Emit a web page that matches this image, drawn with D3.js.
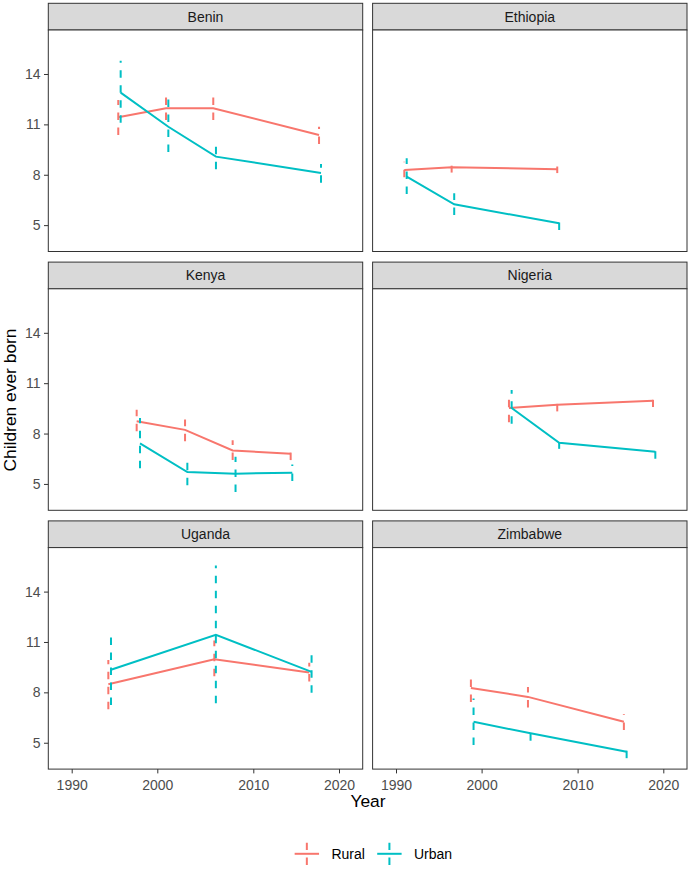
<!DOCTYPE html>
<html>
<head>
<meta charset="utf-8">
<script src="https://cdn.jsdelivr.net/npm/d3@7"></script>
<style>
  body { margin: 0; background: #fff; }
  svg { display: block; font-family: "Liberation Sans", Arial, sans-serif; }
</style>
</head>
<body>
<div id="chart"></div>
<script>
//////////////////////////// data /////////////////////////////////////////

const countries = ["Benin", "Ethiopia", "Kenya", "Nigeria", "Uganda", "Zimbabwe"];
const areas = ["Rural", "Urban"];
const xTicks = [1990, 2000, 2010, 2020];
const yTicks = [5, 8, 11, 14];
const yLimits = [3.43, 16.62];

// one inner array per country, in the order of `countries`
const ruralYear = [
	[1995.44, 2000.91, 2005.83, 2017.67],
	[1990.97, 1996.5, 2007.88],
	[1997.59, 2002.89, 2007.85, 2014.36],
	[2002.85, 2007.88, 2018.8],
	[1994.28, 2005.94, 2016.53],
	[1998.75, 2004.83, 2015.4]
];
const ruralMean = [
	[11.42, 11.96, 11.96, 10.37],
	[8.29, 8.45, 8.33],
	[8.73, 8.22, 6.99, 6.8],
	[9.52, 9.72, 9.96],
	[8.48, 9.97, 9.18],
	[8.26, 7.73, 6.25]
];
const ruralLow = [
	[10.37, 11.26, 11.26, 9.83],
	[7.85, 8.13, 8.1],
	[8.14, 7.54, 6.42, 6.42],
	[8.67, 9.32, 9.58],
	[7.0, 8.96, 8.64],
	[7.43, 7.1, 5.76]
];
const ruralHigh = [
	[12.45, 13.05, 12.61, 10.86],
	[8.78, 8.54, 8.49],
	[9.42, 8.83, 7.6, 6.92],
	[10.01, 9.78, 10.01],
	[9.92, 11.09, 9.76],
	[8.76, 8.32, 6.69]
];

const urbanYear = [
	[1995.72, 2001.15, 2006.11, 2017.9],
	[1991.25, 1996.8, 2008.08],
	[1997.98, 2003.13, 2008.15, 2014.55],
	[2003.13, 2008.08, 2019.07],
	[1994.59, 2006.1, 2016.8],
	[1999.06, 2005.1, 2015.72]
];
const urbanMean = [
	[12.89, 10.86, 9.08, 8.11],
	[7.89, 6.24, 5.11],
	[7.41, 5.71, 5.61, 5.67],
	[9.52, 7.45, 6.91],
	[9.35, 11.43, 9.22],
	[6.25, 5.56, 4.46]
];
const urbanLow = [
	[11.1, 9.36, 8.33, 7.53],
	[6.86, 5.61, 4.71],
	[5.93, 4.92, 4.52, 5.17],
	[8.59, 7.09, 6.5],
	[7.24, 7.35, 7.97],
	[4.87, 5.12, 4.08]
];
const urbanHigh = [
	[14.79, 12.49, 9.67, 8.64],
	[8.98, 6.9, 5.21],
	[8.93, 6.26, 6.62, 6.16],
	[10.6, 7.48, 6.95],
	[11.29, 15.56, 10.24],
	[7.64, 6.01, 4.53]
];

//////////////////////////// build rows ///////////////////////////////////

const toRows = (area, years, means, lows, highs) =>
	countries.flatMap((c, ci) =>
		years[ci].map((yr, i) => ({
			country: c,
			area: area,
			year: yr,
			mean: means[ci][i],
			low: lows[ci][i],
			high: highs[ci][i]
		}))
	);

const data = [
	...toRows("Rural", ruralYear, ruralMean, ruralLow, ruralHigh),
	...toRows("Urban", urbanYear, urbanMean, urbanLow, urbanHigh)
];

//////////////////////////// sizes ////////////////////////////////////////

const width = 690;
const height = 869;
const panelW = 314.4;
const panelH = 221.5;
const stripH = 26.7;
const colLeft = [48.3, 372.6];
const rowTop = 3.3;
const rowPitch = 258.8;

const colors = ["#F8766D", "#00BFC4"];
const cScale = d3.scaleOrdinal().domain(areas).range(colors);

//////////////////////////// scales ///////////////////////////////////////

// tick spacing in the picture is not even, so the x scale is polylinear
const xScale = d3.scaleLinear().domain(xTicks).range([23.4, 109, 205, 290.7]);
const yScale = d3.scaleLinear().domain(yLimits).range([panelH, 0]);

//////////////////////////// svg //////////////////////////////////////////

const svg = d3.select("#chart")
	.append("svg")
	.attr("width", width)
	.attr("height", height);

const line = d3.line()
	.x((d) => xScale(d.year))
	.y((d) => yScale(d.mean));

countries.forEach((country, ci) => {
	const col = ci % 2;
	const row = Math.floor(ci / 2);
	const stripTop = rowTop + row * rowPitch;
	const left = colLeft[col];
	const top = stripTop + stripH;

	// strip
	svg.append("rect")
		.attr("x", left)
		.attr("y", stripTop)
		.attr("width", panelW)
		.attr("height", stripH)
		.attr("fill", "#D9D9D9")
		.attr("stroke", "#333333")
		.attr("stroke-width", 1);

	svg.append("text")
		.attr("x", left + panelW / 2)
		.attr("y", stripTop + stripH / 2)
		.attr("dy", "0.35em")
		.attr("text-anchor", "middle")
		.attr("font-size", 14)
		.attr("fill", "#1A1A1A")
		.text(country);

	const g = svg.append("g").attr("transform", `translate(${left},${top})`);

	g.append("rect")
		.attr("width", panelW)
		.attr("height", panelH)
		.attr("fill", "#fff");

	// lines
	areas.forEach((area) => {
		const rows = data.filter((d) => d.country === country && d.area === area);
		g.append("path")
			.datum(rows)
			.attr("fill", "none")
			.attr("stroke", cScale(area))
			.attr("stroke-width", 2)
			.attr("d", line);
	});

	// error bars, drawn from the lower end up so the dash pattern starts at the bottom
	g.selectAll(".bar")
		.data(data.filter((d) => d.country === country))
		.enter()
		.append("line")
		.attr("class", "bar")
		.attr("x1", (d) => xScale(d.year))
		.attr("x2", (d) => xScale(d.year))
		.attr("y1", (d) => yScale(d.low))
		.attr("y2", (d) => yScale(d.high))
		.attr("stroke", (d) => cScale(d.area))
		.attr("stroke-width", 2)
		.attr("stroke-dasharray", "7.5,7.5");

	// border
	g.append("rect")
		.attr("width", panelW)
		.attr("height", panelH)
		.attr("fill", "none")
		.attr("stroke", "#333333")
		.attr("stroke-width", 1);

	// axes
	if (col === 0) {
		const yAxis = g.append("g").call(
			d3.axisLeft(yScale).tickValues(yTicks).tickSize(4.3).tickPadding(3.5)
		);
		yAxis.select(".domain").remove();
		yAxis.selectAll(".tick line").attr("stroke", "#333333");
		yAxis.selectAll(".tick text")
			.attr("fill", "#4D4D4D")
			.attr("font-size", 14)
			.attr("font-family", "Liberation Sans, Arial, sans-serif");
	}
	if (row === 2) {
		const xAxis = g.append("g")
			.attr("transform", `translate(0,${panelH})`)
			.call(
				d3.axisBottom(xScale)
					.tickValues(xTicks)
					.tickFormat(d3.format("d"))
					.tickSize(4.3)
					.tickPadding(7)
			);
		xAxis.select(".domain").remove();
		xAxis.selectAll(".tick line").attr("stroke", "#333333");
		xAxis.selectAll(".tick text")
			.attr("fill", "#4D4D4D")
			.attr("font-size", 14)
			.attr("font-family", "Liberation Sans, Arial, sans-serif");
	}
});

//////////////////////////// titles ///////////////////////////////////////

svg.append("text")
	.attr("transform", "translate(16,400) rotate(-90)")
	.attr("text-anchor", "middle")
	.attr("font-size", 17.4)
	.attr("fill", "#000")
	.text("Children ever born");

svg.append("text")
	.attr("x", 368)
	.attr("y", 807)
	.attr("text-anchor", "middle")
	.attr("font-size", 17.4)
	.attr("fill", "#000")
	.text("Year");

//////////////////////////// legend ///////////////////////////////////////

const keyW = 24.4;
const keyH = 22.3;
const legendY = 853.8;
const legend = svg.append("g");

let cursor = 0;
areas.forEach((area, i) => {
	const item = legend.append("g").attr("transform", `translate(${cursor},0)`);
	item.append("line")
		.attr("x1", 0).attr("x2", keyW)
		.attr("y1", legendY).attr("y2", legendY)
		.attr("stroke", cScale(area))
		.attr("stroke-width", 2);
	item.append("line")
		.attr("x1", keyW / 2).attr("x2", keyW / 2)
		.attr("y1", legendY + keyH / 2).attr("y2", legendY - keyH / 2)
		.attr("stroke", cScale(area))
		.attr("stroke-width", 2)
		.attr("stroke-dasharray", "7.5,7.5");
	const label = item.append("text")
		.attr("x", keyW + 12.4)
		.attr("y", legendY)
		.attr("dy", "0.35em")
		.attr("font-size", 14)
		.attr("fill", "#000")
		.text(area);
	cursor += keyW + 12.4 + label.node().getComputedTextLength() + 12.3;
});
const legendW = cursor - 12.3;
legend.attr("transform", `translate(${373.4 - legendW / 2},0)`);
</script>
</body>
</html>
